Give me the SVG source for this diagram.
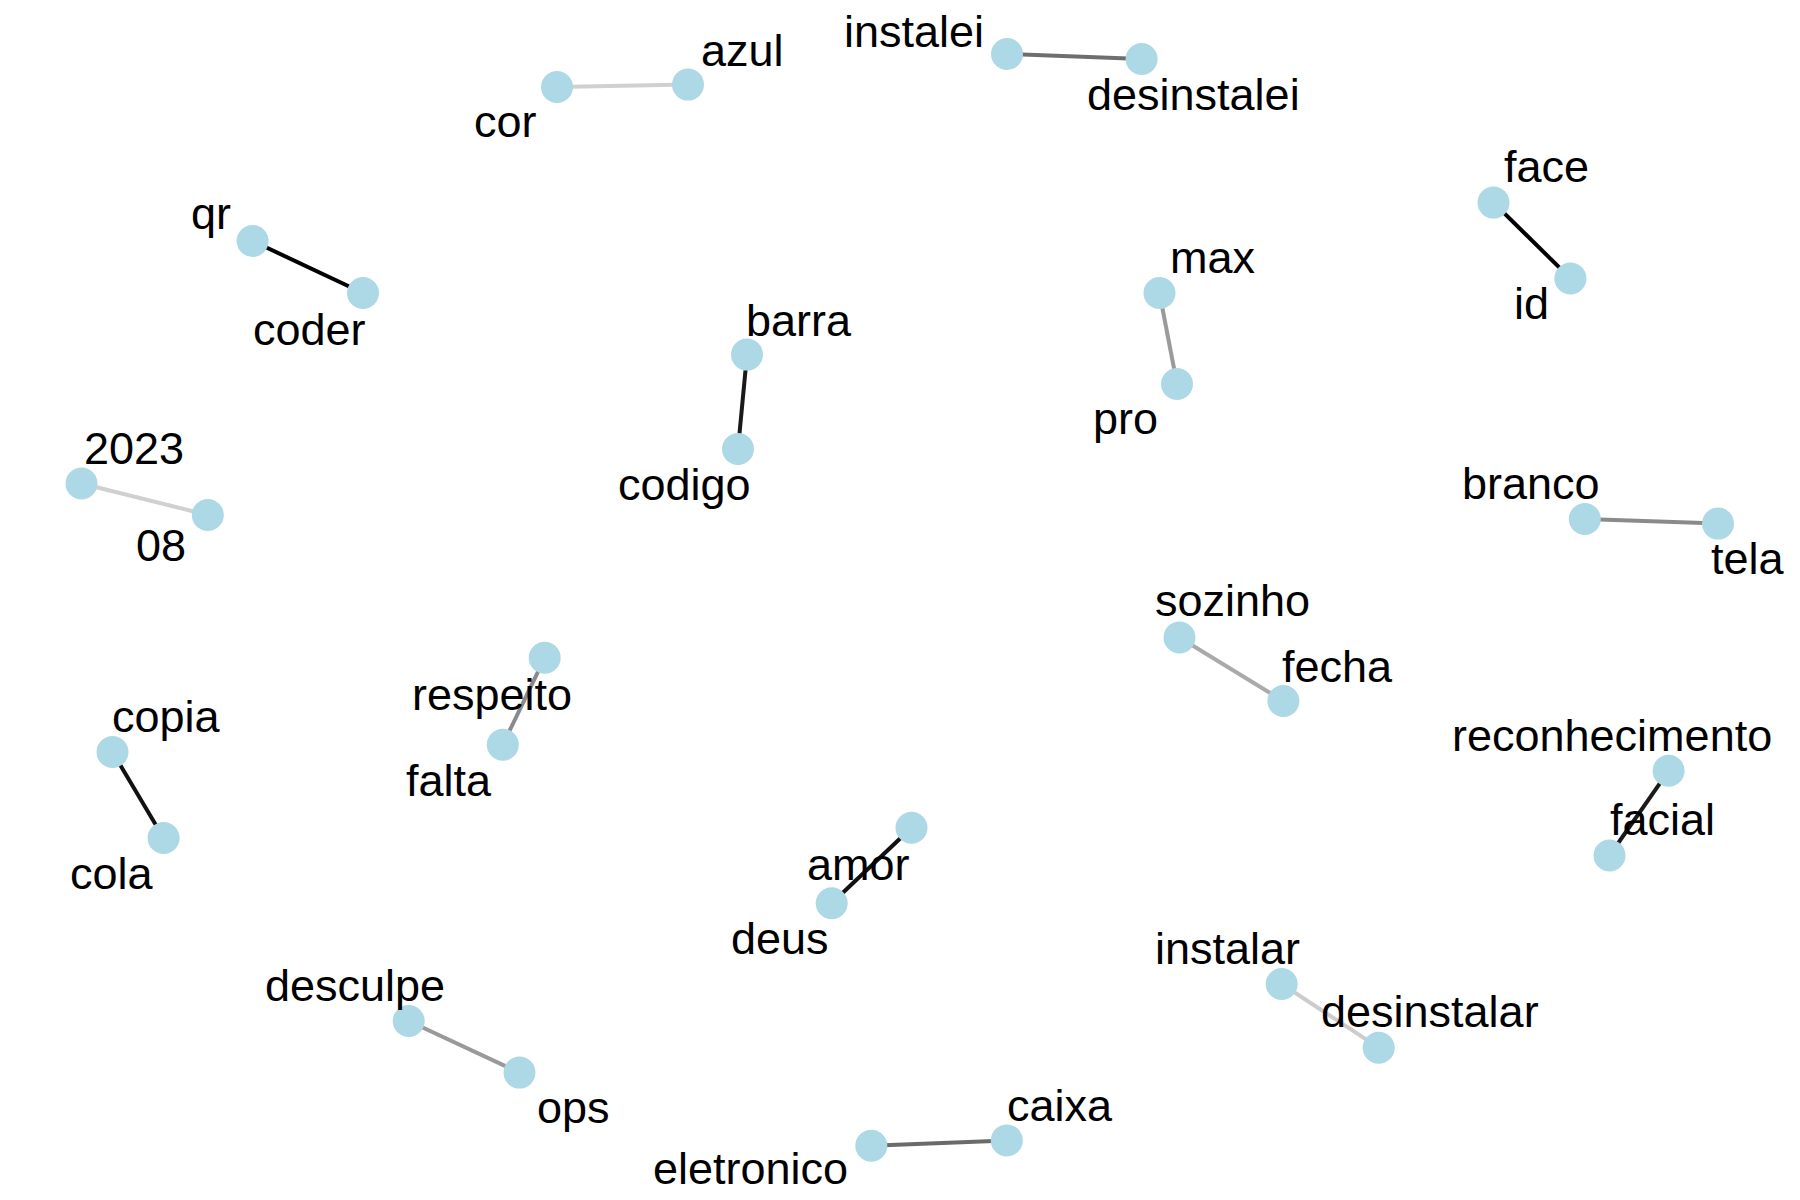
<svg xmlns="http://www.w3.org/2000/svg" width="1800" height="1200" viewBox="0 0 1800 1200">
<style>
.n{fill:#add8e6}
.t{font-family:"Liberation Sans",Arial,sans-serif;font-size:45px;fill:#000}
.e{stroke-width:4;stroke-linecap:butt;fill:none}
</style>
<rect width="1800" height="1200" fill="#fff"/>
<g id="connectors">
<line class="e" x1="557" y1="87" x2="688" y2="84.6" stroke="#d0d0d0"/>
<line class="e" x1="1007" y1="54" x2="1141.6" y2="59" stroke="#6e6e6e"/>
<line class="e" x1="252.6" y1="241" x2="363" y2="293" stroke="#000"/>
<line class="e" x1="81.5" y1="483.5" x2="207.8" y2="515" stroke="#d0d0d0"/>
<line class="e" x1="747" y1="354.6" x2="738" y2="449" stroke="#1a1a1a"/>
<line class="e" x1="1159.5" y1="293" x2="1177" y2="384" stroke="#9a9a9a"/>
<line class="e" x1="1493.5" y1="202.6" x2="1570.4" y2="278.4" stroke="#000"/>
<line class="e" x1="1584.8" y1="519" x2="1718" y2="523.6" stroke="#8a8a8a"/>
<line class="e" x1="1179.5" y1="637.5" x2="1283.4" y2="701" stroke="#aaaaaa"/>
<line class="e" x1="1668.6" y1="770.8" x2="1609.5" y2="855.5" stroke="#1a1a1a"/>
<line class="e" x1="1281.7" y1="984" x2="1378.7" y2="1047.7" stroke="#cccccc"/>
<line class="e" x1="1006.8" y1="1140.4" x2="871.3" y2="1145.8" stroke="#6a6a6a"/>
<line class="e" x1="911.5" y1="827.7" x2="831.7" y2="903.3" stroke="#111"/>
<line class="e" x1="112.5" y1="752" x2="163.6" y2="838" stroke="#111"/>
<line class="e" x1="544.7" y1="657.8" x2="502.8" y2="744.8" stroke="#8a8a8a"/>
<line class="e" x1="408.7" y1="1021" x2="519.5" y2="1072.6" stroke="#999"/>
</g>
<g id="node-cor"><circle class="n" cx="557" cy="87" r="16"/><text class="t" x="474" y="137">cor</text></g>
<g id="node-azul"><circle class="n" cx="688" cy="84.6" r="16"/><text class="t" x="701" y="66">azul</text></g>
<g id="node-instalei"><circle class="n" cx="1007" cy="54" r="16"/><text class="t" x="844" y="47">instalei</text></g>
<g id="node-desinstalei"><circle class="n" cx="1141.6" cy="59" r="16"/><text class="t" x="1087" y="110">desinstalei</text></g>
<g id="node-qr"><circle class="n" cx="252.6" cy="241" r="16"/><text class="t" x="191" y="229">qr</text></g>
<g id="node-coder"><circle class="n" cx="363" cy="293" r="16"/><text class="t" x="253" y="345">coder</text></g>
<g id="node-2023"><circle class="n" cx="81.5" cy="483.5" r="16"/><text class="t" x="84" y="464">2023</text></g>
<g id="node-08"><circle class="n" cx="207.8" cy="515" r="16"/><text class="t" x="136" y="561">08</text></g>
<g id="node-barra"><circle class="n" cx="747" cy="354.6" r="16"/><text class="t" x="746" y="336">barra</text></g>
<g id="node-codigo"><circle class="n" cx="738" cy="449" r="16"/><text class="t" x="618" y="500">codigo</text></g>
<g id="node-max"><circle class="n" cx="1159.5" cy="293" r="16"/><text class="t" x="1170" y="273">max</text></g>
<g id="node-pro"><circle class="n" cx="1177" cy="384" r="16"/><text class="t" x="1093" y="434">pro</text></g>
<g id="node-face"><circle class="n" cx="1493.5" cy="202.6" r="16"/><text class="t" x="1504" y="182">face</text></g>
<g id="node-id"><circle class="n" cx="1570.4" cy="278.4" r="16"/><text class="t" x="1514" y="319">id</text></g>
<g id="node-branco"><circle class="n" cx="1584.8" cy="519" r="16"/><text class="t" x="1462" y="499">branco</text></g>
<g id="node-tela"><circle class="n" cx="1718" cy="523.6" r="16"/><text class="t" x="1711" y="574">tela</text></g>
<g id="node-sozinho"><circle class="n" cx="1179.5" cy="637.5" r="16"/><text class="t" x="1155" y="616">sozinho</text></g>
<g id="node-fecha"><circle class="n" cx="1283.4" cy="701" r="16"/><text class="t" x="1282" y="682">fecha</text></g>
<g id="node-reconhecimento"><circle class="n" cx="1668.6" cy="770.8" r="16"/><text class="t" x="1452" y="751">reconhecimento</text></g>
<g id="node-facial"><circle class="n" cx="1609.5" cy="855.5" r="16"/><text class="t" x="1610" y="835">facial</text></g>
<g id="node-instalar"><circle class="n" cx="1281.7" cy="984" r="16"/><text class="t" x="1155" y="964">instalar</text></g>
<g id="node-desinstalar"><circle class="n" cx="1378.7" cy="1047.7" r="16"/><text class="t" x="1321" y="1027">desinstalar</text></g>
<g id="node-caixa"><circle class="n" cx="1006.8" cy="1140.4" r="16"/><text class="t" x="1007" y="1121">caixa</text></g>
<g id="node-eletronico"><circle class="n" cx="871.3" cy="1145.8" r="16"/><text class="t" x="653" y="1184">eletronico</text></g>
<g id="node-amor"><circle class="n" cx="911.5" cy="827.7" r="16"/><text class="t" x="807" y="880">amor</text></g>
<g id="node-deus"><circle class="n" cx="831.7" cy="903.3" r="16"/><text class="t" x="731" y="954">deus</text></g>
<g id="node-copia"><circle class="n" cx="112.5" cy="752" r="16"/><text class="t" x="112" y="732">copia</text></g>
<g id="node-cola"><circle class="n" cx="163.6" cy="838" r="16"/><text class="t" x="70" y="889">cola</text></g>
<g id="node-respeito"><circle class="n" cx="544.7" cy="657.8" r="16"/><text class="t" x="412" y="710">respeito</text></g>
<g id="node-falta"><circle class="n" cx="502.8" cy="744.8" r="16"/><text class="t" x="406" y="796">falta</text></g>
<g id="node-desculpe"><circle class="n" cx="408.7" cy="1021" r="16"/><text class="t" x="265" y="1001">desculpe</text></g>
<g id="node-ops"><circle class="n" cx="519.5" cy="1072.6" r="16"/><text class="t" x="537" y="1123">ops</text></g>
</svg>
